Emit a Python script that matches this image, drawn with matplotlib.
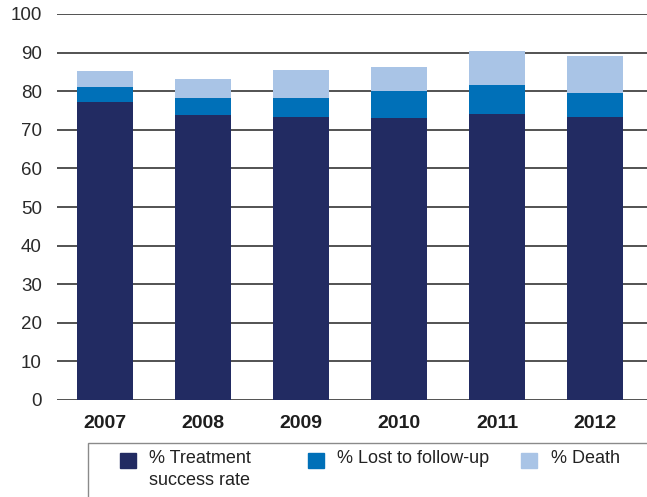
import matplotlib
matplotlib.use("Agg")
import matplotlib.pyplot as plt
from matplotlib.patches import Rectangle

years = ["2007", "2008", "2009", "2010", "2011", "2012"]
success = [77.2, 73.8, 73.3, 73.1, 74.1, 73.3]
lost = [3.9, 4.4, 4.9, 7.0, 7.6, 6.2]
death = [4.1, 5.0, 7.3, 6.2, 8.7, 9.6]
series_names = ["% Treatment\nsuccess rate", "% Lost to follow-up", "% Death"]
colors = ["#222B62", "#0070B8", "#A9C4E6"]
yticks = [0, 10, 20, 30, 40, 50, 60, 70, 80, 90, 100]

plt.rcParams["font.family"] = ["Liberation Sans", "DejaVu Sans"]

W, H = 647, 497
fig = plt.figure(figsize=(W / 100, H / 100), dpi=100)
ax = fig.add_axes([57 / W, (H - 400) / H, (W - 57) / W, 386 / H])

x = list(range(len(years)))
bw = 0.58
bottoms2 = success
bottoms3 = [a + b for a, b in zip(success, lost)]
ax.bar(x, success, width=bw, color=colors[0], zorder=3)
ax.bar(x, lost, width=bw, bottom=bottoms2, color=colors[1], zorder=3)
ax.bar(x, death, width=bw, bottom=bottoms3, color=colors[2], zorder=3)

ax.set_xlim(-0.49, 5.53)
ax.set_ylim(0, 100)
ax.set_yticks(yticks)
ax.set_yticklabels([str(v) for v in yticks], fontsize=13.5, color="#2a2a2a")
ax.set_xticks(x)
ax.set_xticklabels(years, fontsize=14, fontweight="bold", color="#1e1e1e")
ax.tick_params(axis="y", length=0, pad=11)
ax.tick_params(axis="x", length=0, pad=11)
for s in ax.spines.values():
    s.set_visible(False)
for v in yticks:
    ax.axhline(v, color="#444444", lw=1.3, zorder=1)

# legend box
fig.patches.append(Rectangle((88 / W, -0.05), 1.0, (H - 443) / H + 0.05,
                             transform=fig.transFigure, fill=False,
                             edgecolor="#8a8a8a", lw=1.0, clip_on=False))
sq_x = [120, 308, 521]
tx_x = [149, 337, 551]
for i in range(3):
    fig.patches.append(Rectangle((sq_x[i] / W, (H - 468) / H), 16 / W, 15 / H,
                                 transform=fig.transFigure, color=colors[i]))
    fig.text(tx_x[i] / W, (H - 450) / H, series_names[i], fontsize=13,
             color="#222222", va="top", ha="left", linespacing=1.35)

fig.savefig("out.png", dpi=100)
